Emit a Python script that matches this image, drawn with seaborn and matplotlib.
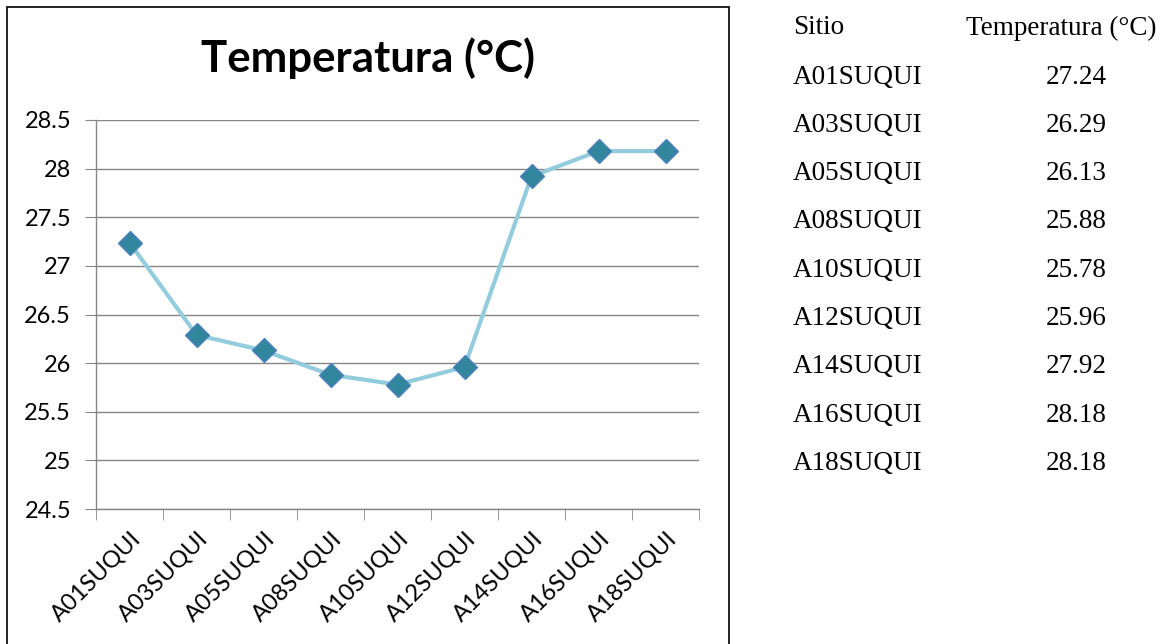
import matplotlib
matplotlib.use('Agg')
import matplotlib.pyplot as plt
import matplotlib.transforms as mtrans
import seaborn as sns
import pandas as pd
from matplotlib.patches import Rectangle

sites = ['A01SUQUI', 'A03SUQUI', 'A05SUQUI', 'A08SUQUI', 'A10SUQUI',
         'A12SUQUI', 'A14SUQUI', 'A16SUQUI', 'A18SUQUI']
temps = [27.24, 26.29, 26.13, 25.88, 25.78, 25.96, 27.92, 28.18, 28.18]
y_ticks = [24.5, 25, 25.5, 26, 26.5, 27, 27.5, 28, 28.5]

df = pd.DataFrame({'Sitio': sites, 'Temperatura': temps})

sns.set_style('white')
plt.rcParams['font.family'] = ['Lato', 'DejaVu Sans']
plt.rcParams['text.color'] = 'black'
plt.rcParams['xtick.color'] = 'black'
plt.rcParams['ytick.color'] = 'black'

fig = plt.figure(figsize=(11.61, 6.44), dpi=100)
ax = fig.add_axes([96 / 1161, 1 - 509 / 644, 603 / 1161, 389 / 644])

# chart frame (open at the bottom edge of the image)
fig.patches.append(Rectangle((7 / 1161, -0.05), 722 / 1161, 1.05 - 7 / 644,
                             transform=fig.transFigure, fill=False,
                             edgecolor='#000000', linewidth=1.2))

sns.lineplot(data=df, x='Sitio', y='Temperatura', ax=ax, sort=False,
             color='#93CDDD', linewidth=3, marker='D', markersize=12,
             markerfacecolor='#31859C', markeredgecolor='#4F81BD',
             markeredgewidth=1)

ax.set_xlim(-0.5, len(sites) - 0.5)
ax.set_ylim(24.5, 28.5)
ax.set_yticks(y_ticks)
ax.set_yticklabels([f'{v:g}' for v in y_ticks], fontsize=17)
ax.yaxis.grid(True, color='#868686', linewidth=1)
ax.set_axisbelow(True)

ax.set_xticks(range(len(sites)))
ax.set_xticklabels(sites, fontsize=17, rotation=45, ha='right',
                   va='center', rotation_mode='anchor')
ax.tick_params(axis='x', length=0, pad=19)
shift = mtrans.ScaledTranslation(0.08, 0, fig.dpi_scale_trans)
for lab in ax.get_xticklabels():
    lab.set_transform(lab.get_transform() + shift)
ax.set_xticks([i - 0.5 for i in range(len(sites) + 1)], minor=True)
ax.tick_params(axis='x', which='minor', length=8, color='#868686',
               direction='out', bottom=True)
ax.tick_params(axis='y', length=8, color='#868686', labelcolor='black',
               direction='out', left=True, pad=10)
ax.set_xlabel('')
ax.set_ylabel('')

for side in ['top', 'right']:
    ax.spines[side].set_visible(False)
for side in ['left', 'bottom']:
    ax.spines[side].set_color('#868686')
    ax.spines[side].set_linewidth(1)

fig.text(368 / 1161, 1 - 58 / 644, 'Temperatura (°C)', fontsize=31.5,
         fontweight='bold', ha='center', va='center', color='black')

# side table
serif = ['Liberation Serif', 'DejaVu Serif']
fs = 19.5
fig.text(793 / 1161, 1 - 28 / 644, 'Sitio', fontsize=fs, family=serif,
         ha='left', va='center')
fig.text(1061 / 1161, 1 - 28 / 644, 'Temperatura (°C)', fontsize=fs,
         family=serif, ha='center', va='center')
for i, (s, t) in enumerate(zip(sites, temps)):
    y = 1 - (77 + i * 48.3) / 644
    fig.text(793 / 1161, y, s, fontsize=fs, family=serif,
             ha='left', va='center')
    fig.text(1076 / 1161, y, f'{t:.2f}', fontsize=fs, family=serif,
             ha='center', va='center')

fig.savefig('out.png', dpi=100)
